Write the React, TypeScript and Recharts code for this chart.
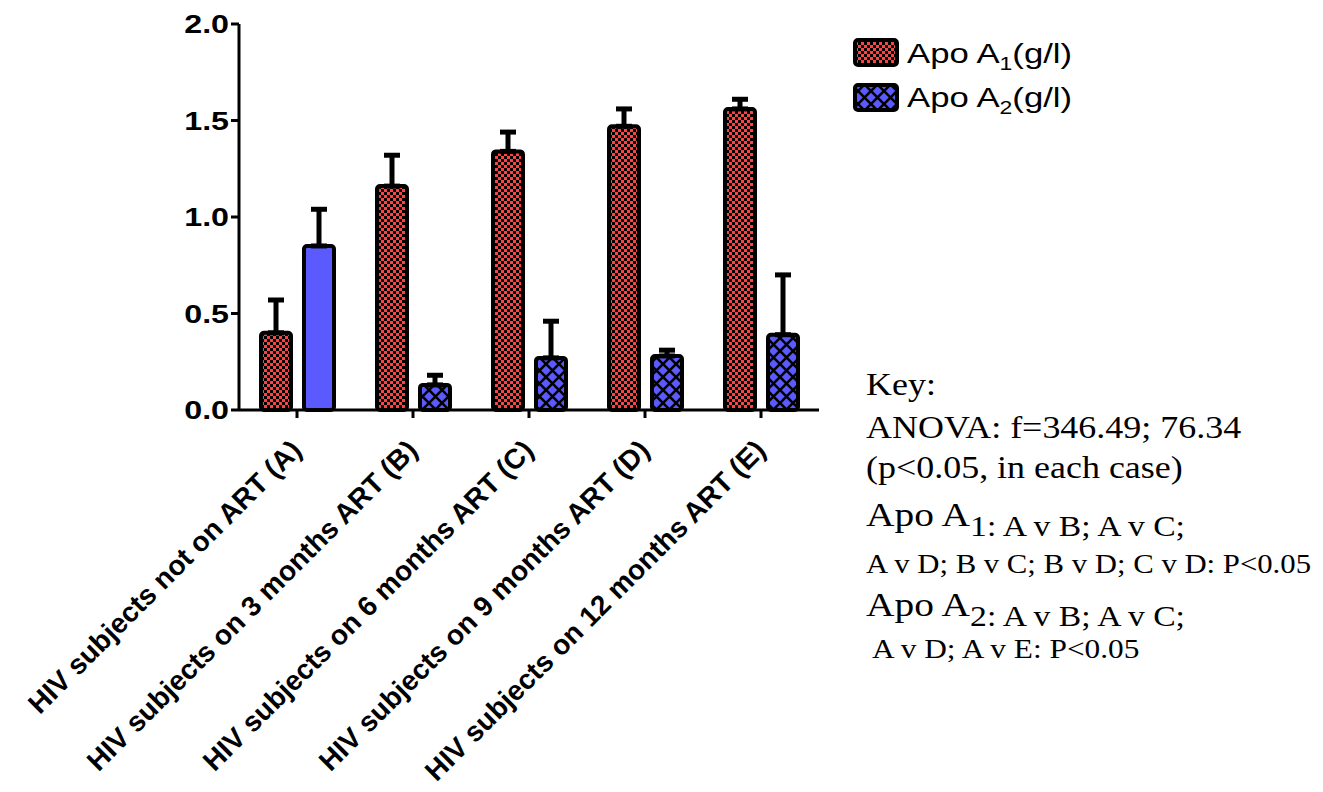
import React from 'react';
import { BarChart, Bar, XAxis, YAxis, ErrorBar, Cell } from 'recharts';

// Study groups (x categories)
const groups = [
  'HIV subjects not on ART (A)',
  'HIV subjects on 3 months ART (B)',
  'HIV subjects on 6 months ART (C)',
  'HIV subjects on 9 months ART (D)',
  'HIV subjects on 12 months ART (E)',
];

// Apo A1 (g/l): mean and upper error
const apoA1 = [0.4, 1.16, 1.34, 1.47, 1.56];
const apoA1Sd = [0.17, 0.16, 0.1, 0.09, 0.05];

// Apo A2 (g/l): mean and upper error
const apoA2 = [0.85, 0.13, 0.27, 0.28, 0.39];
const apoA2Sd = [0.19, 0.05, 0.19, 0.03, 0.31];

const yTicks = [0, 0.5, 1.0, 1.5, 2.0];

const seriesBase = ['Apo A', 'Apo A'];
const seriesSub = ['1', '2'];
const seriesUnit = ['(g/l)', '(g/l)'];

const keyLines = [
  'Key:',
  'ANOVA: f=346.49; 76.34',
  '(p<0.05, in each case)',
];
const a1Comparisons = ['1: A v B; A v C;', 'A v D; B v C; B v D; C v D: P<0.05'];
const a2Comparisons = ['2: A v B; A v C;', ' A v D; A v E: P<0.05'];

const data = groups.map((g, i) => ({
  group: g,
  a1: apoA1[i],
  a1Err: [0, apoA1Sd[i]],
  a2: apoA2[i],
  a2Err: [0, apoA2Sd[i]],
}));

const RED = '#FF4242';
const BLUE = '#5A5AFF';
const SANS = '"Liberation Sans", Arial, Helvetica, sans-serif';
const SERIF = '"Liberation Serif", "Times New Roman", Times, serif';
const SX = 1.24;
const KEY_SX = 1.16;

const YTick = (props: any) => {
  const { x, y, payload } = props;
  return (
    <g transform={`translate(${x},${y}) scale(${SX},1)`}>
      <text
        x={0}
        y={0}
        dy="0.36em"
        textAnchor="end"
        fontFamily={SANS}
        fontWeight="bold"
        fontSize={26}
        fill="#000"
      >
        {Number(payload.value).toFixed(1)}
      </text>
    </g>
  );
};

const XTick = (props: any) => {
  const { x, y, payload } = props;
  return (
    <g transform={`translate(${x + 6},${y + 34}) rotate(-45)`}>
      <text
        x={0}
        y={0}
        textAnchor="end"
        fontFamily={SANS}
        fontWeight="bold"
        fontSize={28}
        fill="#000"
      >
        {payload.value}
      </text>
    </g>
  );
};

const swatchFills = ['url(#checkRed)', 'url(#hatchBlue)'];

export default function App() {
  return (
    <div
      style={{
        position: 'absolute',
        left: 0,
        top: 0,
        width: 1323,
        height: 792,
        background: '#fff',
      }}
    >
      <BarChart
        width={1323}
        height={792}
        data={data}
        margin={{ top: 24, right: 504, bottom: 282, left: 159 }}
        barSize={30}
        barGap={13}
      >
        <defs>
          <pattern id="checkRed" width="6" height="6" patternUnits="userSpaceOnUse">
            <rect width="6" height="6" fill={RED} />
            <rect width="3" height="3" fill="#000" />
            <rect x="3" y="3" width="3" height="3" fill="#000" />
          </pattern>
          <pattern id="hatchBlue" width="13" height="13" patternUnits="userSpaceOnUse">
            <rect width="13" height="13" fill={BLUE} />
            <path d="M0,0 L13,13 M13,0 L0,13" stroke="#000" strokeWidth="2.6" />
          </pattern>
        </defs>
        <XAxis
          dataKey="group"
          interval={0}
          height={100}
          tickSize={8}
          tickMargin={0}
          tick={<XTick />}
          axisLine={{ stroke: '#000', strokeWidth: 3 }}
          tickLine={{ stroke: '#000', strokeWidth: 3 }}
        />
        <YAxis
          type="number"
          domain={[0, 2]}
          ticks={yTicks}
          interval={0}
          width={80}
          tickSize={8}
          tickMargin={2}
          tick={<YTick />}
          axisLine={{ stroke: '#000', strokeWidth: 3 }}
          tickLine={{ stroke: '#000', strokeWidth: 3 }}
        />
        <Bar
          dataKey="a1"
          fill="url(#checkRed)"
          stroke="#000"
          strokeWidth={4}
          radius={3}
          isAnimationActive={false}
        >
          <ErrorBar dataKey="a1Err" direction="y" width={8} strokeWidth={5} stroke="#000" />
        </Bar>
        <Bar
          dataKey="a2"
          stroke="#000"
          strokeWidth={4}
          radius={3}
          isAnimationActive={false}
        >
          {data.map((d, i) => (
            <Cell key={d.group} fill={i === 0 ? BLUE : 'url(#hatchBlue)'} />
          ))}
          <ErrorBar dataKey="a2Err" direction="y" width={8} strokeWidth={5} stroke="#000" />
        </Bar>
      </BarChart>

      {/* legend and statistics key */}
      <svg
        width={1323}
        height={792}
        style={{ position: 'absolute', left: 0, top: 0, pointerEvents: 'none' }}
      >
        {seriesBase.map((base, i) => (
          <g key={i}>
            <rect
              x={855}
              y={40 + i * 45}
              width={42}
              height={25}
              rx={3}
              fill={swatchFills[i]}
              stroke="#000"
              strokeWidth={4}
            />
            <g transform={`translate(907,${63 + i * 44}) scale(${SX},1)`}>
              <text x={0} y={0} fontFamily={SANS} fontSize={28} fill="#000">
                {base}
                <tspan dy={7} fontSize={18.5}>{seriesSub[i]}</tspan>
                <tspan dy={-7} fontSize={28}>{seriesUnit[i]}</tspan>
              </text>
            </g>
          </g>
        ))}

        <g transform={`translate(866,0) scale(${KEY_SX},1)`} fontFamily={SERIF} fill="#000">
          <text x={0} y={395} fontSize={31}>{keyLines[0]}</text>
          <text x={0} y={438} fontSize={31}>{keyLines[1]}</text>
          <text x={0} y={478} fontSize={31}>{keyLines[2]}</text>
          <text x={0} y={526} fontSize={34}>
            Apo A
            <tspan dy={10} fontSize={29}>{a1Comparisons[0]}</tspan>
          </text>
          <text x={0} y={573} fontSize={26.5}>{a1Comparisons[1]}</text>
          <text x={0} y={616} fontSize={34}>
            Apo A
            <tspan dy={10} fontSize={29}>{a2Comparisons[0]}</tspan>
          </text>
          <text x={0} y={658} fontSize={27} xmlSpace="preserve">
            {a2Comparisons[1]}
          </text>
        </g>
      </svg>
    </div>
  );
}
